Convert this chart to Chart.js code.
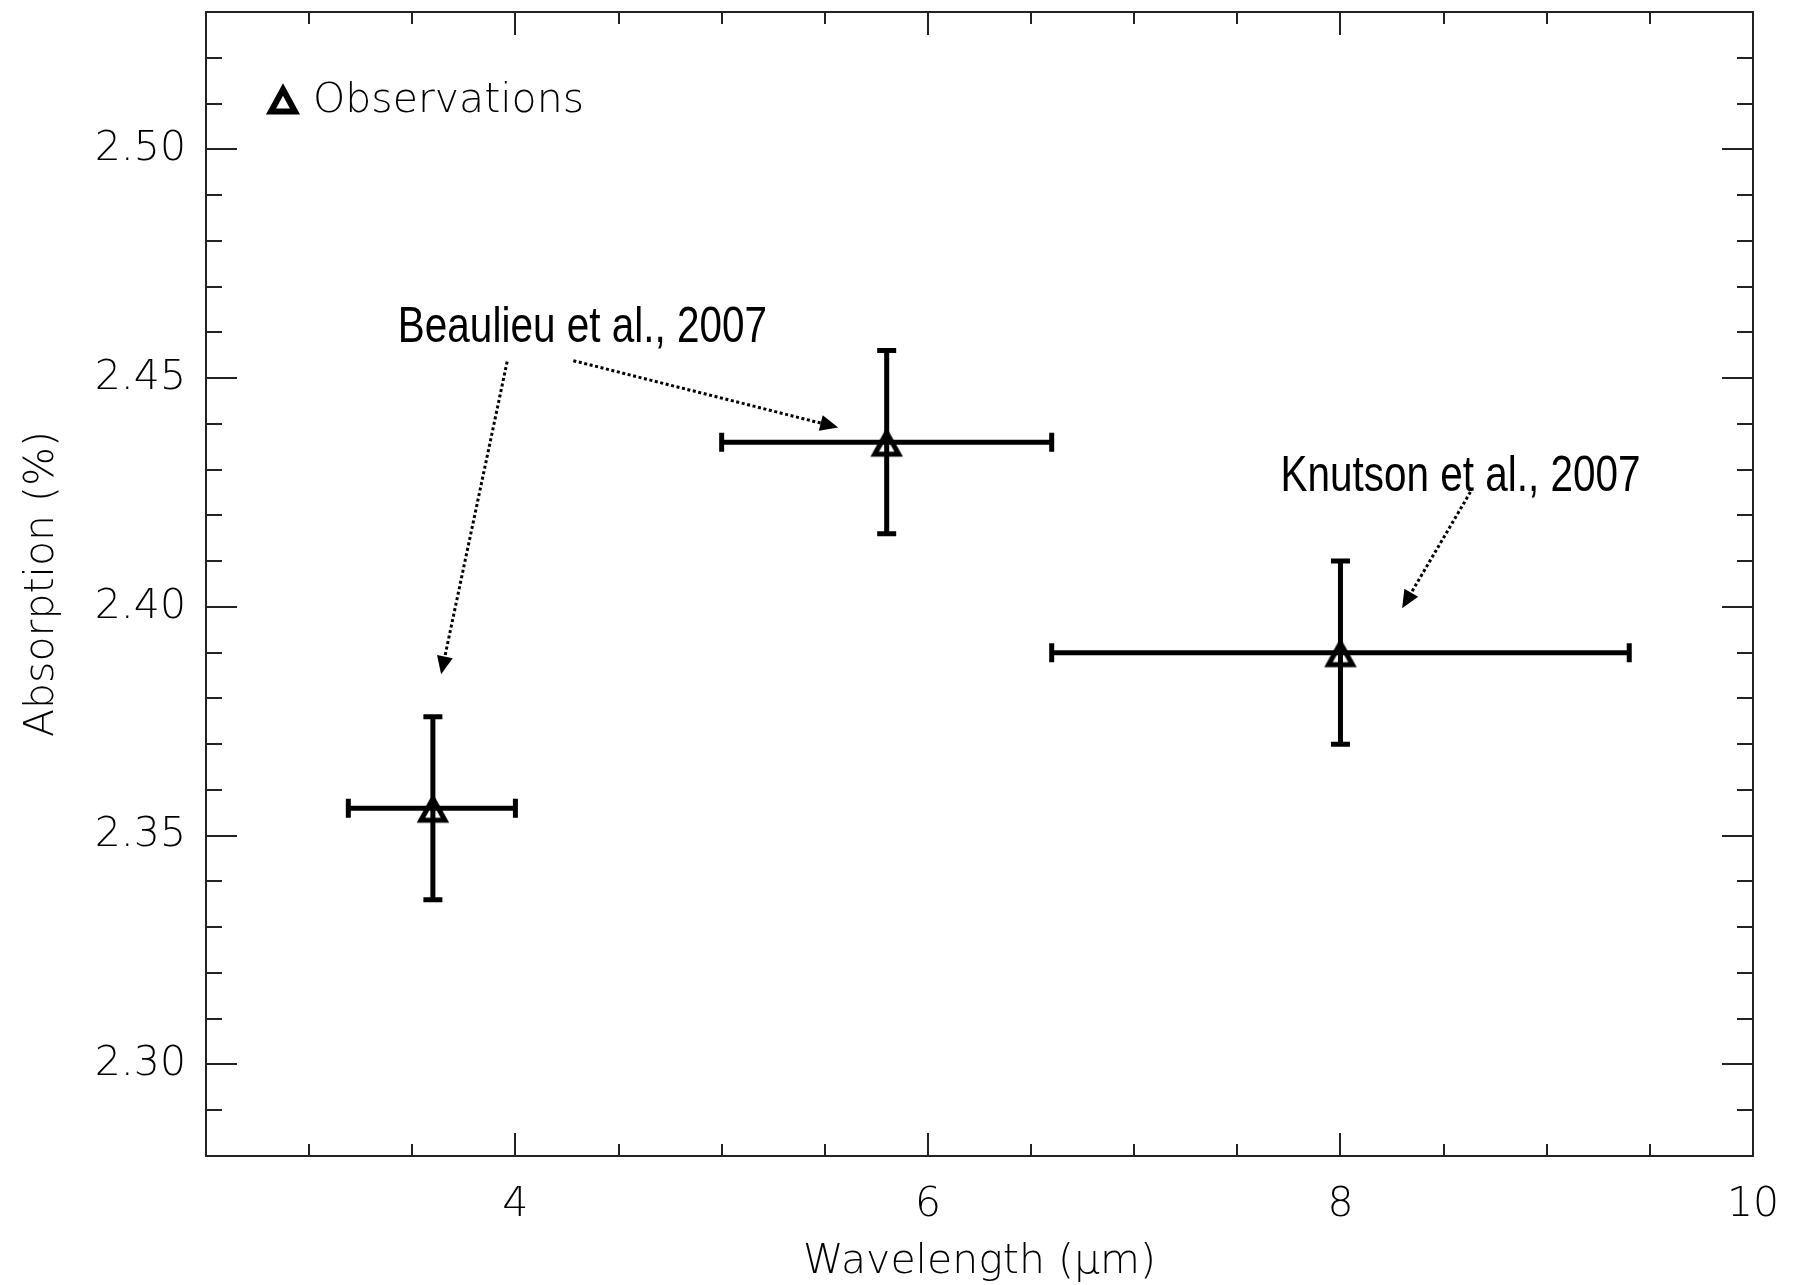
<!DOCTYPE html>
<html>
<head>
<meta charset="utf-8">
<title>Absorption vs wavelength</title>
<script src="https://cdn.jsdelivr.net/npm/chart.js@4.4.1/dist/chart.umd.min.js"></script>
<style>
  html, body { margin: 0; padding: 0; background: #fff; overflow: hidden; }
  #wrap { width: 1793px; height: 1285px; position: relative; }
</style>
</head>
<body>
<div id="wrap"><canvas id="c" width="1793" height="1285"></canvas></div>
<script>
// Transit absorption depth per IRAC band
const wavelength    = [3.6, 5.8, 8.0];          // µm, band centre
const bandLow       = [3.19, 5.0, 6.6];         // µm, band lower edge
const bandHigh      = [4.0, 6.6, 9.4];          // µm, band upper edge
const absorption    = [2.356, 2.436, 2.390];    // %
const absorptionErr = [0.02, 0.02, 0.02];       // %

// Axis ticks
const xTickValues  = [4, 6, 8, 10];
const xMinorValues = [3, 3.5, 4.5, 5, 5.5, 6.5, 7, 7.5, 8.5, 9, 9.5];
const yTickValues  = [2.30, 2.35, 2.40, 2.45, 2.50];
const yMinorValues = [2.29, 2.31, 2.32, 2.33, 2.34, 2.36, 2.37, 2.38, 2.39,
                      2.41, 2.42, 2.43, 2.44, 2.46, 2.47, 2.48, 2.49, 2.51, 2.52];

// Source notes and their arrows (data coordinates)
const noteLabels  = ['Beaulieu et al., 2007', 'Knutson et al., 2007'];
const noteX       = [4.325, 8.582];
const noteY       = [2.4578, 2.4254];
const arrowFromX  = [3.960, 4.281, 8.630];
const arrowFromY  = [2.4536, 2.4538, 2.4251];
const arrowToX    = [3.640, 5.565, 8.299];
const arrowToY    = [2.3853, 2.4392, 2.3997];

const legendLabel = 'Observations';

const AXIS_FONT = 'DejaVu Sans';
const NOTE_FONT = "'Liberation Sans', Arial";

// Hollow triangle marker
function makeTriangle(apex, base, half, lw) {
  const c = document.createElement('canvas');
  c.width = 48; c.height = 48;
  const g = c.getContext('2d');
  g.translate(24, 24);
  g.strokeStyle = '#000';
  g.lineWidth = lw;
  g.lineJoin = 'miter';
  g.beginPath();
  g.moveTo(0, apex);
  g.lineTo(half, base);
  g.lineTo(-half, base);
  g.closePath();
  g.stroke();
  return c;
}
const triangleMarker = makeTriangle(-9.5, 12, 12, 5);
const legendMarker   = makeTriangle(-9.5, 12.5, 12, 6);

function drawArrow(ctx, x0, y0, x1, y1) {
  const ang = Math.atan2(y1 - y0, x1 - x0);
  const headLen = 18, headHalf = 8;
  const bx = x1 - Math.cos(ang) * headLen;
  const by = y1 - Math.sin(ang) * headLen;
  ctx.save();
  ctx.strokeStyle = '#000';
  ctx.lineWidth = 3;
  ctx.setLineDash([3, 2.6]);
  ctx.beginPath();
  ctx.moveTo(x0, y0);
  ctx.lineTo(bx, by);
  ctx.stroke();
  ctx.setLineDash([]);
  ctx.fillStyle = '#000';
  ctx.beginPath();
  ctx.moveTo(x1, y1);
  ctx.lineTo(bx + Math.sin(ang) * headHalf, by - Math.cos(ang) * headHalf);
  ctx.lineTo(bx - Math.sin(ang) * headHalf, by + Math.cos(ang) * headHalf);
  ctx.closePath();
  ctx.fill();
  ctx.restore();
}

const errorBars = {
  id: 'errorBars',
  beforeDatasetsDraw(chart) {
    const { ctx, scales: { x, y } } = chart;
    const cap = 9.5;
    ctx.save();
    ctx.strokeStyle = '#000';
    ctx.lineWidth = 5;
    ctx.lineCap = 'butt';
    wavelength.forEach((w, i) => {
      const px = x.getPixelForValue(w);
      const py = y.getPixelForValue(absorption[i]);
      const xl = x.getPixelForValue(bandLow[i]);
      const xh = x.getPixelForValue(bandHigh[i]);
      const yl = y.getPixelForValue(absorption[i] - absorptionErr[i]);
      const yh = y.getPixelForValue(absorption[i] + absorptionErr[i]);
      ctx.beginPath();
      ctx.moveTo(xl, py); ctx.lineTo(xh, py);
      ctx.moveTo(xl, py - cap); ctx.lineTo(xl, py + cap);
      ctx.moveTo(xh, py - cap); ctx.lineTo(xh, py + cap);
      ctx.moveTo(px, yl); ctx.lineTo(px, yh);
      ctx.moveTo(px - cap, yl); ctx.lineTo(px + cap, yl);
      ctx.moveTo(px - cap, yh); ctx.lineTo(px + cap, yh);
      ctx.stroke();
    });
    ctx.restore();
  }
};

const frameAndNotes = {
  id: 'frameAndNotes',
  afterDraw(chart) {
    const { ctx, chartArea: a, scales: { x, y } } = chart;
    ctx.save();
    ctx.strokeStyle = '#222';
    ctx.lineWidth = 2;
    // top and right border
    ctx.beginPath();
    ctx.moveTo(a.left, a.top); ctx.lineTo(a.right, a.top); ctx.lineTo(a.right, a.bottom);
    ctx.stroke();
    // inward tick marks on all four sides
    const xMajor = 23, xMinor = 12, yMajor = 31, yMinor = 16;
    ctx.beginPath();
    const xt = (v, len) => {
      const p = Math.round(x.getPixelForValue(v));
      ctx.moveTo(p, a.bottom); ctx.lineTo(p, a.bottom - len);
      ctx.moveTo(p, a.top); ctx.lineTo(p, a.top + len);
    };
    const yt = (v, len) => {
      const p = Math.round(y.getPixelForValue(v));
      ctx.moveTo(a.left, p); ctx.lineTo(a.left + len, p);
      ctx.moveTo(a.right, p); ctx.lineTo(a.right - len, p);
    };
    xTickValues.forEach(v => xt(v, xMajor));
    xMinorValues.forEach(v => xt(v, xMinor));
    yTickValues.forEach(v => yt(v, yMajor));
    yMinorValues.forEach(v => yt(v, yMinor));
    ctx.stroke();

    // arrows and source notes
    arrowFromX.forEach((v, i) => {
      drawArrow(ctx, x.getPixelForValue(v), y.getPixelForValue(arrowFromY[i]),
                x.getPixelForValue(arrowToX[i]), y.getPixelForValue(arrowToY[i]));
    });
    ctx.fillStyle = '#000';
    ctx.font = '50px ' + NOTE_FONT;
    ctx.textAlign = 'center';
    ctx.textBaseline = 'alphabetic';
    noteLabels.forEach((t, i) => {
      ctx.save();
      ctx.translate(x.getPixelForValue(noteX[i]), y.getPixelForValue(noteY[i]));
      ctx.scale(0.81, 1);
      ctx.fillText(t, 0, 0);
      ctx.restore();
    });

    // legend
    const lx = a.left + 77, ly = a.top + 87;
    ctx.drawImage(legendMarker, lx - 24, ly - 24);
    ctx.font = '200 41px ' + AXIS_FONT;
    ctx.textAlign = 'left';
    ctx.fillText(legendLabel, lx + 30, ly + 13);
    ctx.restore();
  }
};

const axisFont = { family: AXIS_FONT, size: 41, weight: 200, lineHeight: 1 };

new Chart(document.getElementById('c'), {
  type: 'scatter',
  data: {
    datasets: [{
      label: legendLabel,
      data: wavelength.map((w, i) => ({ x: w, y: absorption[i] })),
      pointStyle: triangleMarker,
      pointRadius: 16,
      pointHoverRadius: 16,
      borderColor: '#000',
      backgroundColor: 'rgba(0,0,0,0)'
    }]
  },
  options: {
    responsive: false,
    animation: false,
    layout: { autoPadding: false, padding: { top: 12, right: 40, left: 0, bottom: 0 } },
    plugins: { legend: { display: false }, tooltip: { enabled: false } },
    scales: {
      x: {
        type: 'linear', position: 'bottom', min: 2.5, max: 10,
        afterBuildTicks: s => { s.ticks = xTickValues.map(v => ({ value: v })); },
        afterFit: s => { s.height = 129; s.paddingLeft = 0; s.paddingRight = 0; },
        grid: { display: false, drawTicks: false },
        border: { display: true, color: '#222', width: 2 },
        ticks: {
          padding: 29, color: '#000', font: axisFont,
          maxRotation: 0, autoSkip: false,
          callback: v => String(v)
        },
        title: {
          display: true, text: 'Wavelength (μm)', color: '#000',
          font: axisFont, padding: { top: 0, bottom: 2 }
        }
      },
      y: {
        type: 'linear', position: 'left', min: 2.28, max: 2.53,
        afterBuildTicks: s => { s.ticks = yTickValues.map(v => ({ value: v })); },
        afterFit: s => { s.width = 206; s.paddingTop = 0; s.paddingBottom = 0; },
        grid: { display: false, drawTicks: false },
        border: { display: true, color: '#222', width: 2 },
        ticks: {
          padding: 20, color: '#000', font: axisFont,
          autoSkip: false,
          callback: v => v.toFixed(2)
        },
        title: {
          display: true, text: 'Absorption (%)', color: '#000',
          font: axisFont, padding: { top: 22, bottom: 0 }
        }
      }
    }
  },
  plugins: [errorBars, frameAndNotes]
});
</script>
</body>
</html>
